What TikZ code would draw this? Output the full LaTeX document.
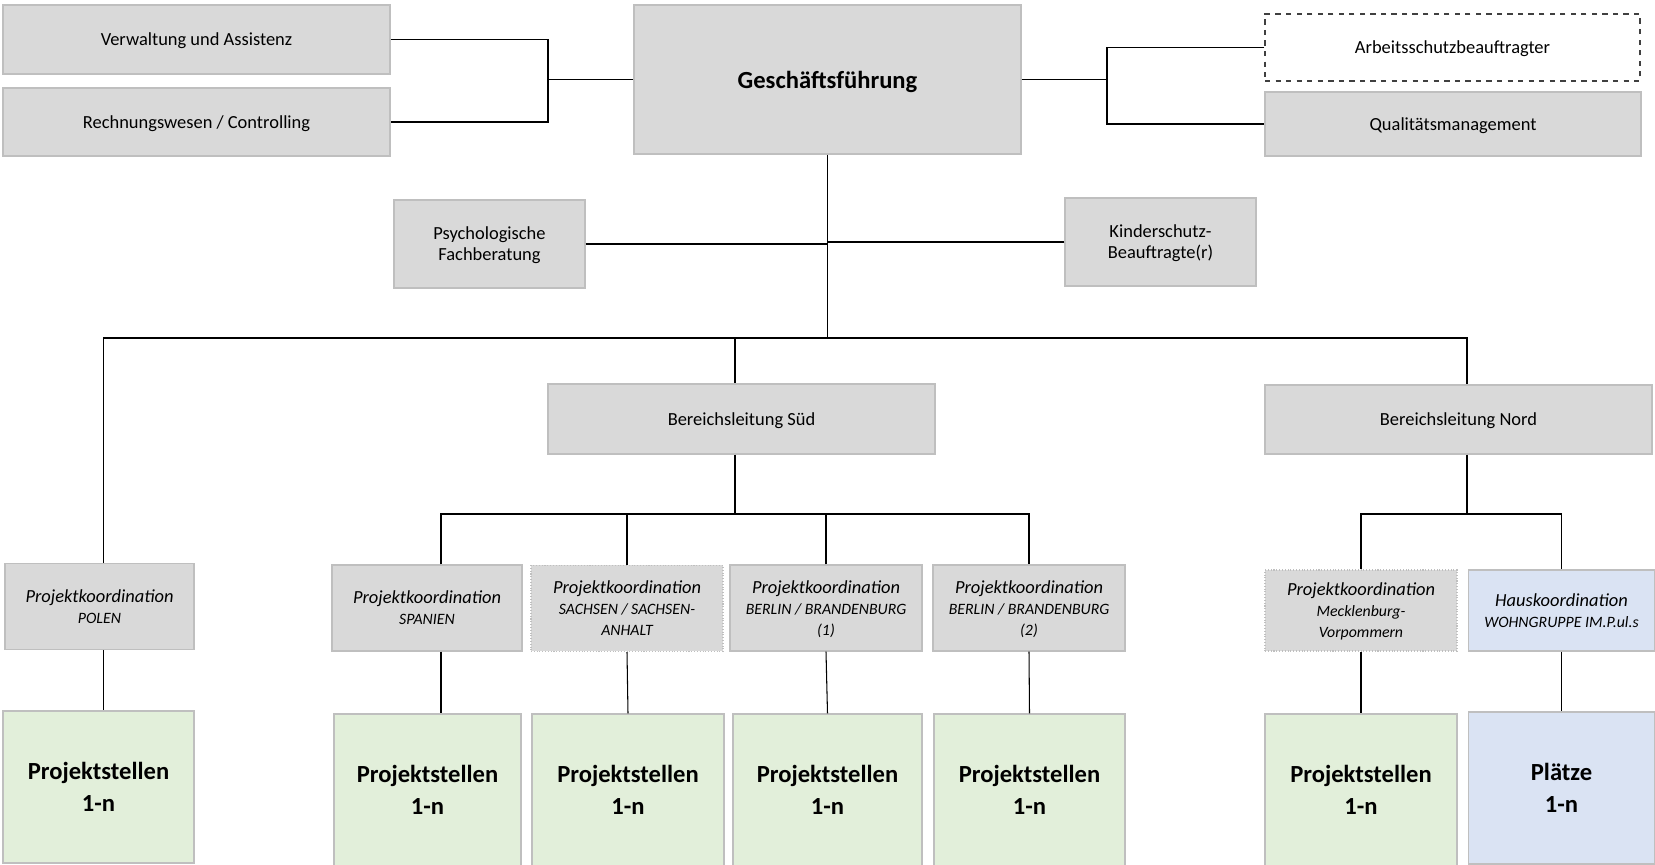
\documentclass[tikz,border=0pt]{standalone}
\usepackage{fontspec}
\setmainfont{Carlito}
\definecolor{boxgray}{HTML}{D9D9D9}
\definecolor{edgegray}{HTML}{BFBFBF}
\definecolor{postgreen}{HTML}{E2EFDA}
\definecolor{placeblue}{HTML}{DAE3F3}
\newcommand{\region}[1]{{\fontsize{9}{11}\selectfont #1}}
\begin{document}
\begin{tikzpicture}
\tikzstyle{unit}=[rectangle,draw=edgegray,fill=boxgray,line width=0.6pt,align=center,inner sep=0pt,text depth=0pt,font=\fontsize{10.5}{12}\selectfont]
\tikzstyle{coord}=[unit,minimum height=1.72cm,font=\itshape\fontsize{10.5}{12}\selectfont]
\tikzstyle{posts}=[unit,fill=postgreen,minimum height=3.04cm,font=\bfseries\fontsize{14}{18}\selectfont]
\tikzstyle{wire}=[black,line width=0.6pt]

\useasboundingbox (0,0) rectangle (33.1,-17.3);

\node [unit,minimum width=7.74cm,minimum height=1.38cm] at (3.93,-0.79) (verw) {Verwaltung und Assistenz};
\node [unit,minimum width=7.74cm,minimum height=1.36cm] at (3.93,-2.44) (rech) {Rechnungswesen / Controlling};
\node [unit,minimum width=7.74cm,minimum height=2.98cm,font=\bfseries\fontsize{14}{17}\selectfont] at (16.55,-1.59) (gf) {Geschäftsführung};
\node [unit,fill=white,draw=black!75,dashed,minimum width=7.5cm,minimum height=1.34cm] at (29.05,-0.95) (arb) {Arbeitsschutzbeauftragter};
\node [unit,minimum width=7.52cm,minimum height=1.28cm] at (29.06,-2.48) (qual) {Qualitätsmanagement};

\node [unit,minimum width=3.82cm,minimum height=1.76cm] at (9.79,-4.88) (psy) {Psychologische\\Fachberatung};
\node [unit,minimum width=3.82cm,minimum height=1.76cm] at (23.21,-4.84) (kind) {Kinderschutz-\\Beauftragte(r)};

\node [unit,minimum width=7.74cm,minimum height=1.4cm] at (14.83,-8.38) (blsued) {Bereichsleitung Süd};
\node [unit,minimum width=7.74cm,minimum height=1.38cm] at (29.17,-8.39) (blnord) {Bereichsleitung Nord};

\node [coord,minimum width=3.78cm] at (1.99,-12.13) (polen) {Projektkoordination\\\region{POLEN}};
\node [coord,minimum width=3.8cm] at (8.54,-12.16) (spanien) {Projektkoordination\\\region{SPANIEN}};
\node [coord,minimum width=3.84cm,densely dotted] at (12.54,-12.17) (sachsen) {Projektkoordination\\\region{SACHSEN / SACHSEN-}\\\region{ANHALT}};
\node [coord,minimum width=3.84cm] at (16.52,-12.16) (berlin1) {Projektkoordination\\\region{BERLIN / BRANDENBURG}\\\region{(1)}};
\node [coord,minimum width=3.84cm] at (20.58,-12.16) (berlin2) {Projektkoordination\\\region{BERLIN / BRANDENBURG}\\\region{(2)}};
\node [coord,minimum width=3.84cm,minimum height=1.62cm,densely dotted] at (27.22,-12.21) (meck) {Projektkoordination\\\region{Mecklenburg-}\\\region{Vorpommern}};
\node [coord,minimum width=3.72cm,minimum height=1.62cm,fill=placeblue] at (31.23,-12.21) (haus) {Hauskoordination\\\region{WOHNGRUPPE IM.P.ul.s}};

\node [posts,minimum width=3.82cm] at (1.97,-15.74) (polen-ps) {Projektstellen\\1-n};
\node [posts,minimum width=3.74cm] at (8.55,-15.8) (spanien-ps) {Projektstellen\\1-n};
\node [posts,minimum width=3.84cm] at (12.56,-15.8) (sachsen-ps) {Projektstellen\\1-n};
\node [posts,minimum width=3.78cm] at (16.55,-15.8) (berlin1-ps) {Projektstellen\\1-n};
\node [posts,minimum width=3.82cm] at (20.59,-15.8) (berlin2-ps) {Projektstellen\\1-n};
\node [posts,minimum width=3.84cm] at (27.22,-15.8) (meck-ps) {Projektstellen\\1-n};
\node [posts,minimum width=3.72cm,fill=placeblue] at (31.23,-15.76) (haus-ps) {Plätze\\1-n};

\coordinate (lknee) at (10.96,-1.54);
\coordinate (rknee) at (22.14,-1.56);
\coordinate (hub) at (16.55,-6.76);
\coordinate (sued) at (14.7,-10.28);
\coordinate (nord) at (29.34,-10.28);

\draw [wire] (verw.east) -| (lknee) |- (rech.east);
\draw [wire] (gf.west) -- (gf.west -| lknee);
\draw [wire] (arb.west) -| (rknee) |- (qual.west);
\draw [wire] (gf.east) -- (gf.east -| rknee);

\draw [wire] (gf.south) -- (hub);
\draw [wire] (psy.east) -- (psy.east -| hub);
\draw [wire] (kind.west) -- (kind.west -| hub);
\draw [wire] ([xshift=0.08cm]polen.north) |- (hub) -| (nord |- blnord.north);
\draw [wire] (hub -| sued) -- (sued |- blsued.north);

\draw [wire] (sued |- blsued.south) -- (sued);
\draw [wire] ([xshift=0.28cm]spanien.north) |- (sued) -| (berlin2.north);
\draw [wire] (nord |- blnord.south) -- (nord);
\draw [wire] (meck.north) |- (nord) -| (haus.north);
\foreach \n in {sachsen,berlin1}
  \draw [wire] (\n.north) -- (\n.north |- sued);

\draw [wire] ([xshift=0.08cm]polen.south) -- ([xshift=0.08cm]polen.south |- polen-ps.north);
\draw [wire] ([xshift=0.28cm]spanien.south) -- ([xshift=0.28cm]spanien.south |- spanien-ps.north);
\foreach \n in {sachsen,berlin1,berlin2,meck,haus}
  \draw [wire] (\n.south) -- (\n-ps.north);
\end{tikzpicture}
\end{document}
